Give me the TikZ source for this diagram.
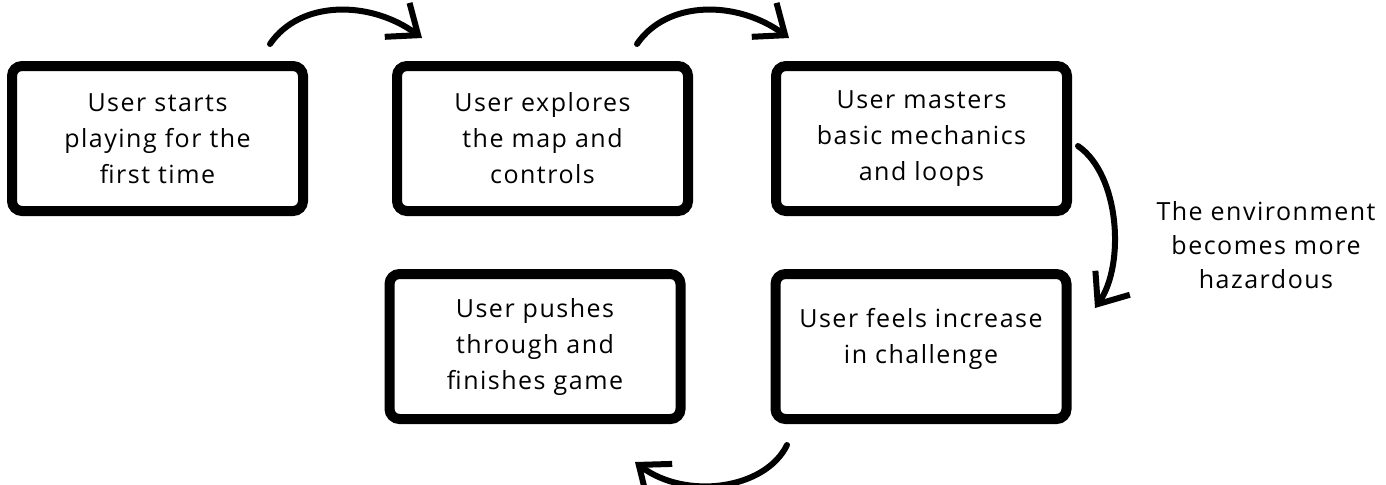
\documentclass[tikz,border=0pt]{standalone}
\usepackage{fontspec}
\setmainfont{Open Sans}[LetterSpace=6]
\usetikzlibrary{arrows.meta,calc}

\begin{document}
\begin{tikzpicture}[x=0.5pt,y=-0.5pt,
    stage/.style={draw, line width=5pt, rounded corners=5pt,
      minimum width=145.5pt, minimum height=72.5pt, align=center,
      font=\fontsize{12.5}{18}\selectfont},
    flow/.style={line width=3pt, line cap=round,
      -{Straight Barb[length=13pt,width=21pt,line width=3pt]}},
    note/.style={align=center, font=\fontsize{12.5}{17}\selectfont}
  ]
  \useasboundingbox (0,0) rectangle (1386,484);

  % Stages
  \node[stage] (b1) at (157.5,138.5) {User starts\\playing for the\\first time};
  \node[stage] (b2) at (542.5,138.5) {User explores\\the map and\\controls};
  \node[stage] (b3) at (921.5,138.5) {User masters\\basic mechanics\\and loops};
  \node[stage] (b4) at (535,346.5) {User pushes\\through and\\finishes game};
  \node[stage, text depth=11pt] (b5) at (921,346.5) {User feels increase\\in challenge};

  \node[note] (env) at (1266,245) {The environment\\becomes more\\hazardous};

  % Arrows between stages
  \draw[flow] ($(b1.north east)+(-38,-17)$) .. controls +(30,-44) and +(-52,-38) .. ($(b2.north west)+(30,-23)$);
  \draw[flow] ($(b2.north east)+(-56,-17)$) .. controls +(30,-44) and +(-52,-38) .. ($(b3.north west)+(18,-23)$);
  \draw[flow] ($(b3.east)+(6,7.5)$) .. controls +(42,29) and +(30,-43) .. ($(b5.north east)+(23.5,39)$);
  \draw[flow] ($(b5.south west)+(16.5,21)$) .. controls +(-22,45) and +(50,38) .. ($(b4.south east)+(-50.5,38)$);
\end{tikzpicture}
\end{document}
